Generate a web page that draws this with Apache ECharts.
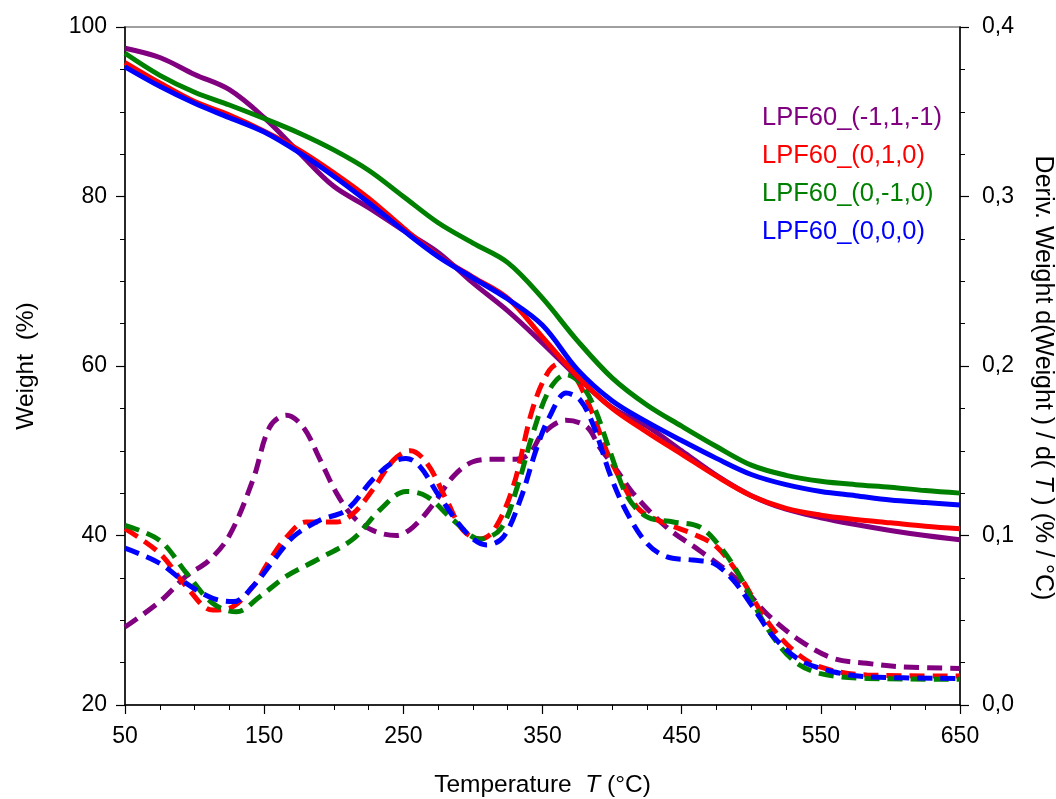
<!DOCTYPE html>
<html>
<head>
<meta charset="utf-8">
<script src="https://cdn.jsdelivr.net/npm/echarts@6/dist/echarts.min.js"></script>
<style>html,body{margin:0;padding:0;background:#fff;overflow:hidden;}#chart{width:1056px;height:799px;}</style>
</head>
<body>
<div id="chart"></div>
<script>
// ---- Data ----
const sampleNames = ['LPF60_(-1,1,-1)', 'LPF60_(0,1,0)', 'LPF60_(0,-1,0)', 'LPF60_(0,0,0)'];
const sampleColors = ['#800080', '#ff0000', '#008000', '#0000ff'];

// TGA (weight %) – left axis
const tgaTemp = [50,75,100,125,150,175,200,225,250,275,300,325,350,375,400,425,450,475,500,525,550,575,600,625,650];
const tgaPurple = [97.5,96.4,94.4,92.6,89.3,85.2,81.2,78.7,76.0,73.4,69.8,66.5,62.7,58.7,55.1,52.9,50.0,47.1,44.7,43.1,42.1,41.3,40.6,40.0,39.5];
const tgaRed    = [95.8,93.4,91.2,89.6,87.7,85.5,82.8,79.8,76.3,73.0,70.5,68.0,63.4,58.8,55.0,52.2,49.6,47.0,44.7,43.2,42.4,41.9,41.5,41.1,40.8];
const tgaGreen  = [96.9,94.3,92.3,90.8,89.2,87.5,85.5,83.1,80.0,76.9,74.5,72.2,68.0,63.0,58.6,55.4,52.9,50.5,48.3,47.1,46.4,46.0,45.7,45.3,45.0];
const tgaBlue   = [95.3,93.0,91.0,89.3,87.6,85.2,82.4,79.3,76.0,72.9,70.4,67.9,64.8,59.6,55.9,53.4,51.2,49.1,47.2,46.0,45.2,44.7,44.2,43.9,43.6];

// DTG (deriv. weight %/°C) – right axis
const dtgTempPurple = [50,75,94,110,125,142,154,166,178,190,202,214,228,245,257,272,286,300,315,331,341,350,367,382,391,403,415,439,463,487,511,535,559,583,607,650];
const dtgPurple     = [0.046,0.061,0.076,0.085,0.100,0.133,0.164,0.171,0.164,0.145,0.125,0.111,0.103,0.100,0.105,0.119,0.135,0.1435,0.145,0.145,0.1485,0.160,0.168,0.164,0.152,0.139,0.125,0.105,0.091,0.076,0.054,0.038,0.0275,0.0246,0.0226,0.0216];
const dtgTempRed = [50,75,94,113,125,142,154,166,180,202,214,228,243,255,267,281,293,305,315,329,343,355,365,375,386,396,406,420,439,458,475,492,511,530,549,583,650];
const dtgRed     = [0.104,0.0895,0.070,0.056,0.057,0.070,0.0855,0.099,0.108,0.108,0.113,0.127,0.1445,0.150,0.1426,0.121,0.103,0.098,0.103,0.129,0.175,0.1976,0.2025,0.1917,0.172,0.150,0.133,0.115,0.107,0.101,0.0934,0.0757,0.050,0.0324,0.0226,0.0177,0.0171];
const dtgTempGreen = [50,75,94,113,130,147,166,190,214,233,252,267,286,305,320,332,343,355,367,377,387,399,411,425,444,463,478,492,511,530,549,583,650];
const dtgGreen     = [0.106,0.097,0.078,0.060,0.055,0.064,0.076,0.0865,0.098,0.115,0.126,0.123,0.109,0.098,0.104,0.129,0.160,0.186,0.195,0.190,0.176,0.1485,0.123,0.111,0.108,0.105,0.093,0.0757,0.046,0.0265,0.0187,0.0157,0.0152];
const dtgTempBlue = [50,75,94,113,128,142,157,171,190,209,228,243,252,262,276,296,310,322,334,346,355,367,377,387,399,411,425,439,458,473,487,501,516,535,559,583,650];
const dtgBlue     = [0.0925,0.0836,0.0718,0.063,0.061,0.070,0.0855,0.0993,0.109,0.115,0.133,0.1435,0.1455,0.1406,0.123,0.101,0.0944,0.0993,0.121,0.152,0.170,0.184,0.180,0.164,0.135,0.113,0.0954,0.0875,0.0855,0.0836,0.0737,0.058,0.0403,0.0265,0.0196,0.0167,0.0157];

const xTicks = { min: 50, max: 650, interval: 100 };
const leftTicks = { min: 20, max: 100, interval: 20 };
const rightTicks = { min: 0, max: 0.4, interval: 0.1 };

// ---- Build ----
const pair = (xs, ys) => xs.map((x, i) => [x, ys[i]]);
const tgaSets = [tgaPurple, tgaRed, tgaGreen, tgaBlue];
const dtgSets = [[dtgTempPurple, dtgPurple], [dtgTempRed, dtgRed], [dtgTempGreen, dtgGreen], [dtgTempBlue, dtgBlue]];

const FONT = '"Liberation Sans", Arial, sans-serif';
const series = [];
sampleNames.forEach((name, i) => {
  series.push({
    name, type: 'line', yAxisIndex: 0, showSymbol: false, smooth: 0.35,
    data: pair(tgaTemp, tgaSets[i]),
    lineStyle: { color: sampleColors[i], width: 5 },
    itemStyle: { color: sampleColors[i] }, z: 3
  });
});
sampleNames.forEach((name, i) => {
  series.push({
    name, type: 'line', yAxisIndex: 1, showSymbol: false, smooth: 0.35,
    data: pair(dtgSets[i][0], dtgSets[i][1]),
    lineStyle: { color: sampleColors[i], width: 5, type: [15, 8], cap: 'butt' },
    itemStyle: { color: sampleColors[i] }, z: 2
  });
});

const axisCommon = {
  axisLine: { show: true, lineStyle: { color: '#000', width: 1.5 } },
  axisTick: { show: true, inside: false, length: 9, lineStyle: { color: '#000', width: 1.2 } },
  minorTick: { show: true, splitNumber: 4, length: 5, lineStyle: { color: '#000', width: 1 } },
  splitLine: { show: false },
  axisLabel: { color: '#000', fontSize: 23, fontFamily: FONT }
};

const chart = echarts.init(document.getElementById('chart'), null, { renderer: 'canvas', width: 1056, height: 799 });
chart.setOption({
  animation: false,
  backgroundColor: '#fff',
  grid: { left: 125, right: 96, top: 27, bottom: 94, containLabel: false, outerBoundsMode: 'none',
          show: true, borderColor: '#808080', borderWidth: 1.5, backgroundColor: 'transparent' },
  legend: {
    orient: 'vertical', left: 752, top: 100, itemGap: 12,
    itemWidth: 0, itemHeight: 0, icon: 'rect',
    selectedMode: false,
    textStyle: { fontSize: 25.5, fontFamily: FONT },
    data: sampleNames.map((n, i) => ({ name: n, textStyle: { color: sampleColors[i] } }))
  },
  xAxis: Object.assign({}, axisCommon, {
    type: 'value', min: xTicks.min, max: xTicks.max, interval: xTicks.interval,
    axisLabel: Object.assign({}, axisCommon.axisLabel, { margin: 20 }),
    name: '{a|Temperature  }{b|T}{a| (°C)}',
    nameLocation: 'middle', nameGap: 68,
    nameTextStyle: { rich: { a: { fontSize: 24.5, fontFamily: FONT, color: '#000' }, b: { fontSize: 24.5, fontFamily: FONT, fontStyle: 'italic', color: '#000' } } }
  }),
  yAxis: [
    Object.assign({}, axisCommon, {
      type: 'value', position: 'left', min: leftTicks.min, max: leftTicks.max, interval: leftTicks.interval,
      axisLabel: Object.assign({}, axisCommon.axisLabel, { margin: 18 }),
      name: 'Weight  (%)', nameLocation: 'middle', nameGap: 86,
      nameTextStyle: { fontSize: 24.5, fontFamily: FONT, color: '#000' }
    }),
    Object.assign({}, axisCommon, {
      type: 'value', position: 'right', min: rightTicks.min, max: rightTicks.max, interval: rightTicks.interval,
      axisLabel: Object.assign({}, axisCommon.axisLabel, { margin: 22, formatter: v => v.toFixed(1).replace('.', ',') }),
      name: '{a|Deriv. Weight d(Weight ) / d( }{b|T}{a| ) (% / °C)}', nameLocation: 'middle', nameGap: 70, nameRotate: -90,
      nameTextStyle: { padding: [0, 0, 0, 24], rich: { a: { fontSize: 25, fontFamily: FONT, color: '#000' }, b: { fontSize: 25, fontFamily: FONT, fontStyle: 'italic', color: '#000' } } }
    })
  ],
  series
});
</script>
</body>
</html>
